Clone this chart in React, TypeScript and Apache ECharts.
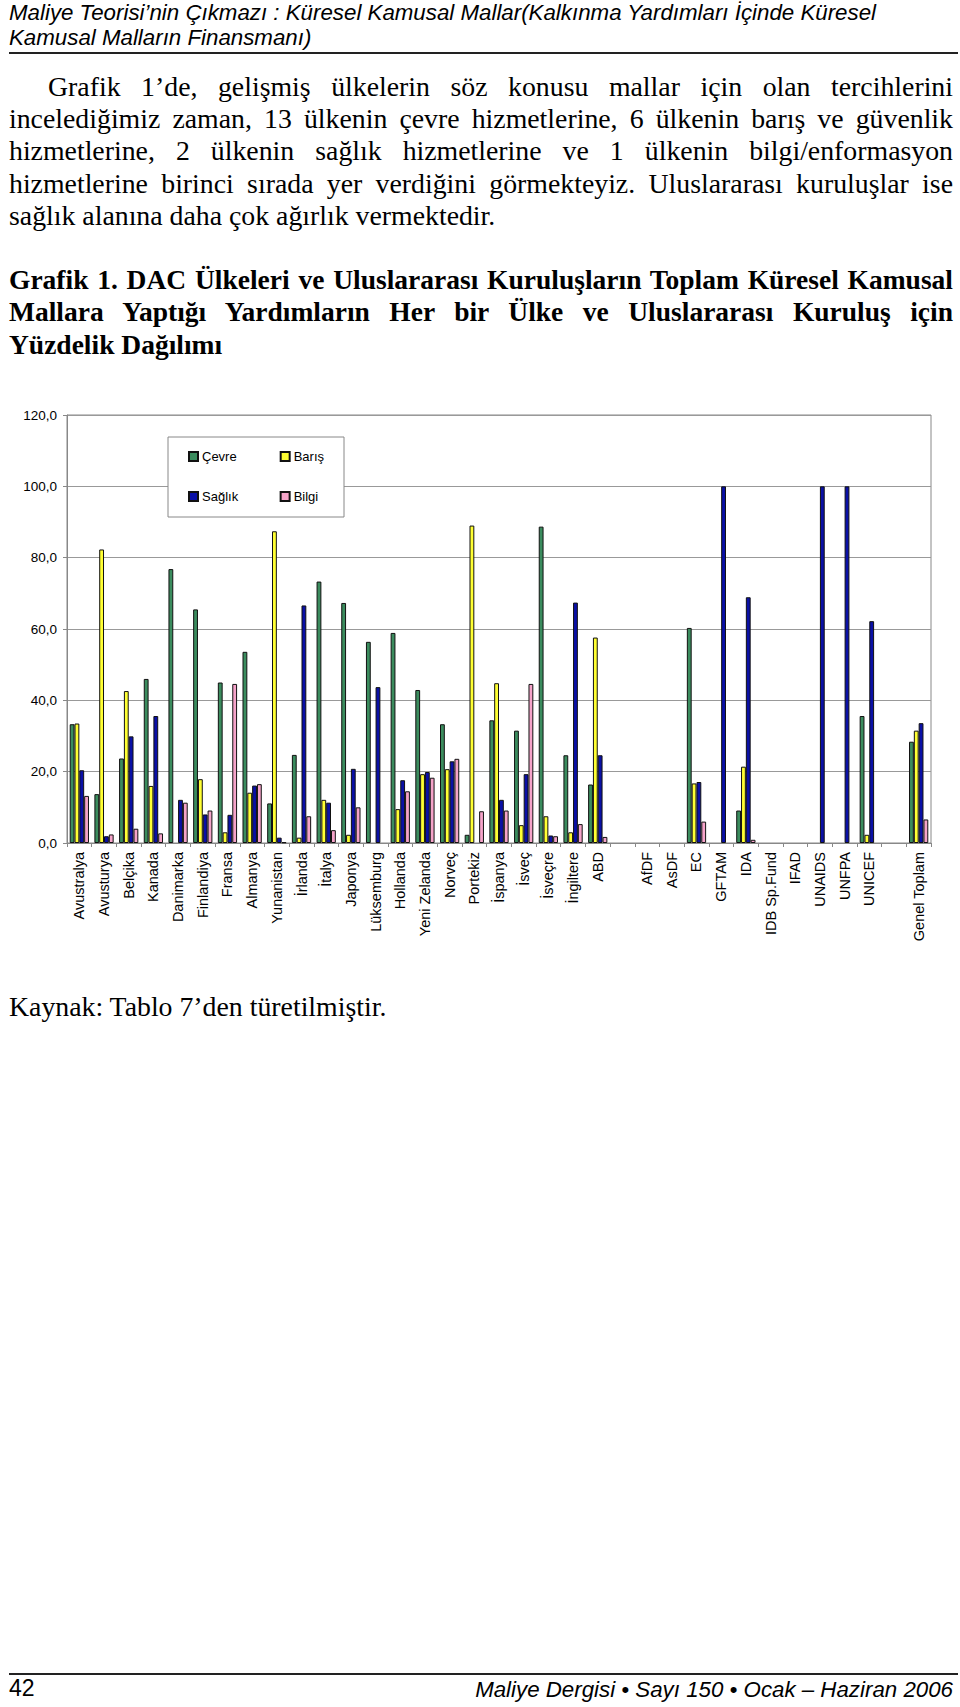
import React, { useEffect, useRef } from 'react';
import * as echarts from 'echarts';

const categories = [
  'Avustralya', 'Avusturya', 'Belçika', 'Kanada', 'Danimarka', 'Finlandiya', 'Fransa', 'Almanya',
  'Yunanistan', 'İrlanda', 'İtalya', 'Japonya', 'Lüksemburg', 'Hollanda', 'Yeni Zelanda', 'Norveç',
  'Portekiz', 'İspanya', 'İsveç', 'İsveçre', 'İngiltere', 'ABD', '', 'AfDF', 'AsDF', 'EC', 'GFTAM',
  'IDA', 'IDB Sp.Fund', 'IFAD', 'UNAIDS', 'UNFPA', 'UNICEF', ' ', 'Genel Toplam',
];

const cevre = [33.3, 13.7, 23.7, 46.0, 76.8, 65.5, 45.0, 53.6, 11.1, 24.7, 73.3, 67.3, 56.4, 58.9, 42.9, 33.3, 2.3, 34.4, 31.5, 88.7, 24.6, 16.4, null, null, null, 60.3, null, 9.1, null, null, null, null, 35.6, null, 28.4];
const baris = [33.5, 82.3, 42.6, 16.0, null, 17.9, 3.0, 14.1, 87.4, 1.5, 12.1, 2.3, null, 9.5, 19.3, 20.7, 89.0, 44.8, 5.0, 7.5, 3.0, 57.6, null, null, null, 16.7, null, 21.4, null, null, null, null, 2.3, null, 31.5];
const saglik = [20.4, 1.9, 29.9, 35.6, 12.1, 8.0, 7.9, 16.1, 1.5, 66.6, 11.3, 20.8, 43.7, 17.6, 19.9, 22.9, null, 12.1, 19.3, 2.1, 67.4, 24.6, null, null, null, 17.1, 100, 68.9, null, null, 100, 100, 62.2, null, 33.6];
const bilgi = [13.2, 2.4, 4.0, 2.7, 11.3, 9.1, 44.6, 16.5, 0.2, 7.5, 3.6, 10.0, null, 14.5, 18.3, 23.6, 8.9, 9.1, 44.6, 1.9, 5.3, 1.7, null, null, null, 6.0, null, 0.9, null, null, null, null, null, null, 6.6];

const seriesNames = ['Çevre', 'Barış', 'Sağlık', 'Bilgi'];
const seriesColors = ['#3b8c5e', '#ffff33', '#0a10a6', '#f5a3c9'];

const headerLines = [
  'Maliye Teorisi’nin Çıkmazı : Küresel Kamusal Mallar(Kalkınma Yardımları İçinde Küresel',
  'Kamusal Malların Finansmanı)',
];
const paragraphLines = [
  'Grafik 1’de, gelişmiş ülkelerin söz konusu mallar için olan tercihlerini',
  'incelediğimiz zaman, 13 ülkenin çevre hizmetlerine, 6 ülkenin barış ve güvenlik',
  'hizmetlerine, 2 ülkenin sağlık hizmetlerine ve 1 ülkenin bilgi/enformasyon',
  'hizmetlerine birinci sırada yer verdiğini görmekteyiz. Uluslararası kuruluşlar ise',
  'sağlık alanına daha çok ağırlık vermektedir.',
];
const titleLines = [
  'Grafik 1. DAC Ülkeleri ve Uluslararası Kuruluşların Toplam Küresel Kamusal',
  'Mallara Yaptığı Yardımların Her bir Ülke ve Uluslararası Kuruluş için',
  'Yüzdelik Dağılımı',
];
const sourceText = 'Kaynak: Tablo 7’den türetilmiştir.';
const pageNumber = '42';
const footerText = 'Maliye Dergisi • Sayı 150 • Ocak – Haziran 2006';

const SANS = '"Liberation Sans", Arial, Helvetica, sans-serif';
const SERIF = '"Liberation Serif", "Times New Roman", serif';

const CHART_TOP = 360;

export default function App() {
  const ref = useRef<HTMLDivElement>(null);

  useEffect(() => {
    if (!ref.current) return;
    const chart = echarts.init(ref.current, null, { renderer: 'svg' });
    const dataSets = [cevre, baris, saglik, bilgi];
    const series = seriesNames.map((name, i) => ({
      type: 'bar',
      name,
      data: dataSets[i],
      barGap: '0%',
      barCategoryGap: '22%',
      itemStyle: { color: seriesColors[i], borderColor: '#111', borderWidth: 1 },
      emphasis: { disabled: true },
    }));
    const legendText = { fontSize: 13, color: '#000', fontFamily: SANS, padding: [0, 0, 0, -1] };
    chart.setOption({
      animation: false,
      grid: {
        left: 67,
        right: 29,
        top: 415 - CHART_TOP,
        bottom: 960 - 843,
        show: true,
        borderColor: '#888',
        borderWidth: 1,
        backgroundColor: 'transparent',
      },
      legend: [
        {
          data: ['Çevre', 'Barış'],
          left: 188,
          top: 450 - CHART_TOP,
          padding: 0,
          itemGap: 43,
          itemWidth: 9,
          itemHeight: 9,
          icon: 'rect',
          textStyle: legendText,
          selectedMode: false,
        },
        {
          data: ['Sağlık', 'Bilgi'],
          left: 188,
          top: 490 - CHART_TOP,
          padding: 0,
          itemGap: 41.5,
          itemWidth: 9,
          itemHeight: 9,
          icon: 'rect',
          textStyle: legendText,
          selectedMode: false,
        },
      ],
      graphic: [
        {
          type: 'rect',
          z: 3,
          shape: { x: 168, y: 437 - CHART_TOP, width: 176, height: 80 },
          style: { fill: '#fff', stroke: '#888', lineWidth: 1 },
        },
      ],
      xAxis: {
        type: 'category',
        data: categories,
        axisLine: { show: true, lineStyle: { color: '#888', width: 1 } },
        axisTick: { show: true, alignWithLabel: false, length: 4, lineStyle: { color: '#888' } },
        axisLabel: {
          interval: 0,
          rotate: 90,
          margin: 9,
          fontSize: 14.5,
          color: '#000',
          fontFamily: SANS,
        },
        splitLine: { show: false },
      },
      yAxis: {
        type: 'value',
        min: 0,
        max: 120,
        interval: 20,
        axisLine: { show: true, lineStyle: { color: '#888', width: 1 } },
        axisTick: { show: true, length: 4, lineStyle: { color: '#888' } },
        axisLabel: {
          margin: 10,
          fontSize: 13.5,
          color: '#000',
          fontFamily: SANS,
          formatter: (v: number) => v.toFixed(1).replace('.', ','),
        },
        splitLine: { show: true, lineStyle: { color: '#999', width: 1 } },
      },
      series,
    });
    return () => chart.dispose();
  }, []);

  const justLine = (text: string, last: boolean, extra: React.CSSProperties = {}) => (
    <div
      key={text}
      style={{
        textAlign: last ? 'left' : 'justify',
        textAlignLast: last ? 'left' : 'justify',
        whiteSpace: 'nowrap',
        ...extra,
      }}
    >
      {text}
    </div>
  );

  return (
    <div
      style={{
        position: 'absolute',
        left: 0,
        top: 0,
        width: 960,
        height: 1707,
        overflow: 'hidden',
        background: '#fff',
        color: '#000',
      }}
    >
      {/* Header */}
      <div
        style={{
          position: 'absolute',
          left: 9,
          top: 0,
          fontFamily: SANS,
          fontStyle: 'italic',
          fontSize: 22.3,
          lineHeight: '25px',
          whiteSpace: 'nowrap',
        }}
      >
        {headerLines.map((l) => (
          <div key={l}>{l}</div>
        ))}
      </div>
      <div style={{ position: 'absolute', left: 9, top: 52, width: 949, height: 2, background: '#222' }} />

      {/* Paragraph */}
      <div
        style={{
          position: 'absolute',
          left: 9,
          top: 71,
          width: 944,
          fontFamily: SERIF,
          fontSize: 27.8,
          lineHeight: '32.2px',
        }}
      >
        {paragraphLines.map((l, i) =>
          justLine(l, i === paragraphLines.length - 1, i === 0 ? { paddingLeft: 39 } : {})
        )}
      </div>

      {/* Chart title */}
      <div
        style={{
          position: 'absolute',
          left: 9,
          top: 264,
          width: 944,
          fontFamily: SERIF,
          fontWeight: 'bold',
          fontSize: 27.5,
          lineHeight: '32.4px',
        }}
      >
        {titleLines.map((l, i) => justLine(l, i === titleLines.length - 1))}
      </div>

      {/* Chart */}
      <div ref={ref} style={{ position: 'absolute', left: 0, top: CHART_TOP, width: 960, height: 600 }} />

      {/* Source */}
      <div
        style={{
          position: 'absolute',
          left: 9,
          top: 991,
          fontFamily: SERIF,
          fontSize: 27.8,
          lineHeight: '32px',
          whiteSpace: 'nowrap',
        }}
      >
        {sourceText}
      </div>

      {/* Footer */}
      <div style={{ position: 'absolute', left: 9, top: 1673, width: 949, height: 2, background: '#222' }} />
      <div
        style={{
          position: 'absolute',
          left: 9,
          top: 1675,
          fontFamily: SANS,
          fontSize: 23,
          lineHeight: '26px',
          whiteSpace: 'nowrap',
        }}
      >
        {pageNumber}
      </div>
      <div
        style={{
          position: 'absolute',
          right: 7,
          top: 1677,
          fontFamily: SANS,
          fontStyle: 'italic',
          fontSize: 22.3,
          lineHeight: '26px',
          whiteSpace: 'nowrap',
        }}
      >
        {footerText}
      </div>
    </div>
  );
}
